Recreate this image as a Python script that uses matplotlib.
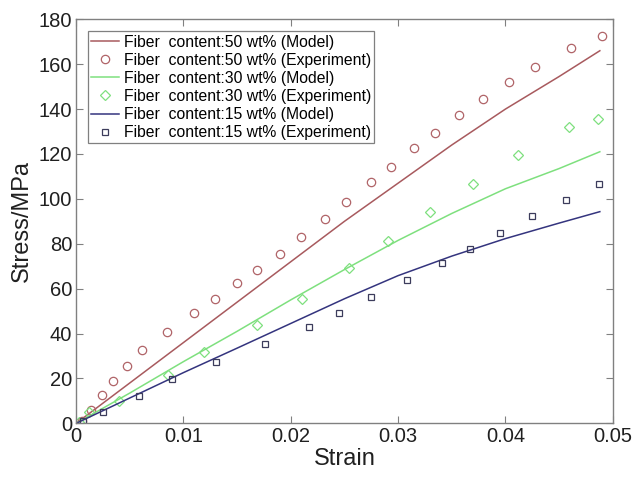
import matplotlib.pyplot as plt

plt.rcParams['font.family'] = ['Liberation Sans', 'DejaVu Sans']

# experiment points
x_50 = [0.0005, 0.00135, 0.00243, 0.0034, 0.00473, 0.0061, 0.00843, 0.01098, 0.01296,
        0.01499, 0.01685, 0.01897, 0.02092, 0.02316, 0.0251, 0.02745, 0.02931, 0.03148,
        0.03347, 0.03568, 0.03791, 0.04031, 0.04273, 0.04614, 0.04898]
y_50 = [1.2, 5.9, 12.6, 19.0, 25.7, 32.7, 40.8, 49.1, 55.4, 62.4, 68.3, 75.4, 83.0, 91.0,
        98.4, 107.5, 114.3, 122.5, 129.2, 137.4, 144.6, 151.9, 158.9, 167.2, 172.7]

x_30 = [0.0003, 0.00122, 0.00402, 0.00858, 0.01194, 0.01685, 0.02102, 0.0254, 0.02909,
        0.033, 0.03701, 0.04118, 0.04596, 0.0486]
y_30 = [0.6, 5.2, 10.1, 21.4, 31.6, 43.8, 55.4, 69.0, 81.4, 94.3, 106.5, 119.5, 132.0, 135.7]

x_15 = [0.00066, 0.00247, 0.00585, 0.0089, 0.01306, 0.01762, 0.02172, 0.02452, 0.02745,
        0.03086, 0.03412, 0.03667, 0.0395, 0.04245, 0.04568, 0.04875]
y_15 = [1.2, 5.0, 12.3, 19.6, 27.4, 35.3, 42.9, 49.1, 56.1, 63.7, 71.6, 77.7, 84.9, 92.2,
        99.5, 106.5]

# model curves
xm = [0, 0.005, 0.01, 0.015, 0.02, 0.025, 0.03, 0.035, 0.04, 0.045, 0.0488]
ym_50 = [0, 18, 36, 54, 72, 90, 107, 124, 140, 154.5, 166]
ym_30 = [0, 13.5, 27.5, 41, 55, 68.5, 81.5, 93.5, 104.5, 113.5, 121]
ym_15 = [0, 11.3, 22.6, 33.5, 44.5, 55.5, 65.8, 74.5, 82.3, 89.2, 94.3]

c_red = '#a85a5e'
c_green = '#7ee07e'
c_blue = '#34347e'

fig = plt.figure(figsize=(6.36, 4.78), dpi=100)
ax = fig.add_axes([0.1198, 0.1144, 0.8436, 0.8452])

ax.plot(xm, ym_50, color=c_red, lw=1.1, label='Fiber  content:50 wt% (Model)')
ax.plot(x_50, y_50, 'o', mfc='none', mec='#b06468', ms=6, mew=0.9,
        label='Fiber  content:50 wt% (Experiment)')
ax.plot(xm, ym_30, color=c_green, lw=1.1, label='Fiber  content:30 wt% (Model)')
ax.plot(x_30, y_30, 'D', mfc='none', mec=c_green, ms=5, mew=0.9,
        label='Fiber  content:30 wt% (Experiment)')
ax.plot(xm, ym_15, color=c_blue, lw=1.1, label='Fiber  content:15 wt% (Model)')
ax.plot(x_15, y_15, 's', mfc='none', mec='#3c3c5c', ms=4.5, mew=0.9,
        label='Fiber  content:15 wt% (Experiment)')

ax.set_xlim(0, 0.05)
ax.set_ylim(0, 180)
ax.set_xticks([0, 0.01, 0.02, 0.03, 0.04, 0.05])
ax.set_xticklabels(['0', '0.01', '0.02', '0.03', '0.04', '0.05'])
ax.set_yticks(range(0, 181, 20))
ax.tick_params(direction='in', top=True, right=True, length=5, width=0.8,
               color='#808080', labelsize=14.5, labelcolor='#202020', pad=3)
for s in ax.spines.values():
    s.set_color('#808080')
    s.set_linewidth(1.0)

ax.set_xlabel('Strain', fontsize=17, color='#202020', labelpad=1)
ax.set_ylabel('Stress/MPa', fontsize=17, color='#202020', labelpad=4)

leg = ax.legend(loc='upper left', bbox_to_anchor=(0.022, 0.97), fontsize=11.3,
                frameon=True, fancybox=False, edgecolor='#606060', borderpad=0.2,
                labelspacing=0.2, handlelength=1.8, handletextpad=0.3,
                borderaxespad=0)
leg.get_frame().set_linewidth(0.9)

fig.savefig('out.png', dpi=100)
